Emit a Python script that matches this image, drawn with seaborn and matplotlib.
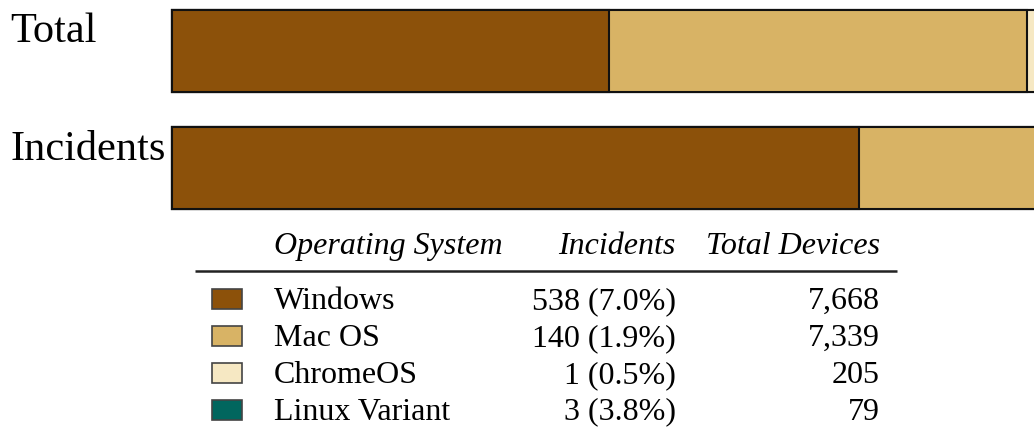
import numpy as np
import pandas as pd
import matplotlib
matplotlib.use("Agg")
import matplotlib.pyplot as plt
from matplotlib.patches import Rectangle
import seaborn as sns

# ---- data ----
os_names = ["Windows", "Mac OS", "ChromeOS", "Linux Variant"]
incidents = [538, 140, 1, 3]
total_devices = [7668, 7339, 205, 79]
groups = ["Total", "Incidents"]
colors = ["#8c510a", "#d8b365", "#f6e8c3", "#01665e"]

sns.set_style("white")
plt.rcParams["font.family"] = ["Liberation Serif", "DejaVu Serif"]
plt.rcParams["text.color"] = "black"

# cumulative proportions for stacked bars
tot = np.array(total_devices, dtype=float)
inc = np.array(incidents, dtype=float)
rows = []
for g, vals in zip(groups, [tot, inc]):
    cum = np.cumsum(vals / vals.sum())
    for name, c in zip(os_names, cum):
        rows.append({"group": g, "os": name, "cum": c})
df = pd.DataFrame(rows)

W, H = 1034, 440
fig = plt.figure(figsize=(W / 100, H / 100), dpi=100)

# bar axes (pixel layout: left 172, width 871, top 10, bottom 209)
ax = fig.add_axes([172 / W, 1 - 209 / H, 871 / W, 199 / H])
for name, col in reversed(list(zip(os_names, colors))):
    sub = df[df["os"] == name]
    sns.barplot(data=sub, x="cum", y="group", order=groups, orient="h",
                color=col, width=0.7, edgecolor="#111111", linewidth=1.5,
                saturation=1, ax=ax)
for p in ax.patches:
    p.set_clip_on(False)
ax.set_xlim(0, 1)
ax.set_ylim(1.35, -0.35)
ax.axis("off")

# overlay axes in pixel coordinates for labels and table
ov = fig.add_axes([0, 0, 1, 1])
ov.set_xlim(0, W)
ov.set_ylim(H, 0)
ov.axis("off")
ov.patch.set_alpha(0)

ov.text(10, 42, "Total", fontsize=30.5, va="baseline", ha="left", color="black")
ov.text(10, 160, "Incidents", fontsize=30.5, va="baseline", ha="left", color="black")

fs = 23
ov.text(274, 254, "Operating System", fontsize=fs, style="italic", ha="left", va="baseline", color="black")
ov.text(676, 254, "Incidents", fontsize=fs, style="italic", ha="right", va="baseline", color="black")
ov.text(880, 254, "Total Devices", fontsize=fs, style="italic", ha="right", va="baseline", color="black")
ov.plot([195, 897], [271, 271], color="#222222", lw=1.8, solid_capstyle="butt")

for i, (name, n_inc, n_tot, col) in enumerate(zip(os_names, incidents, total_devices, colors)):
    base = 309 + i * 36.9
    ov.add_patch(Rectangle((212, base - 20), 30, 20, facecolor=col,
                           edgecolor="#444444", lw=1.2))
    ov.text(274, base, name, fontsize=fs, ha="left", va="baseline", color="black")
    ov.text(676, base, f"{n_inc} ({100 * n_inc / n_tot:.1f}%)", fontsize=fs,
            ha="right", va="baseline", color="black")
    ov.text(880, base, f"{n_tot:,}", fontsize=fs, ha="right", va="baseline", color="black")

fig.savefig("out.png", dpi=100)
